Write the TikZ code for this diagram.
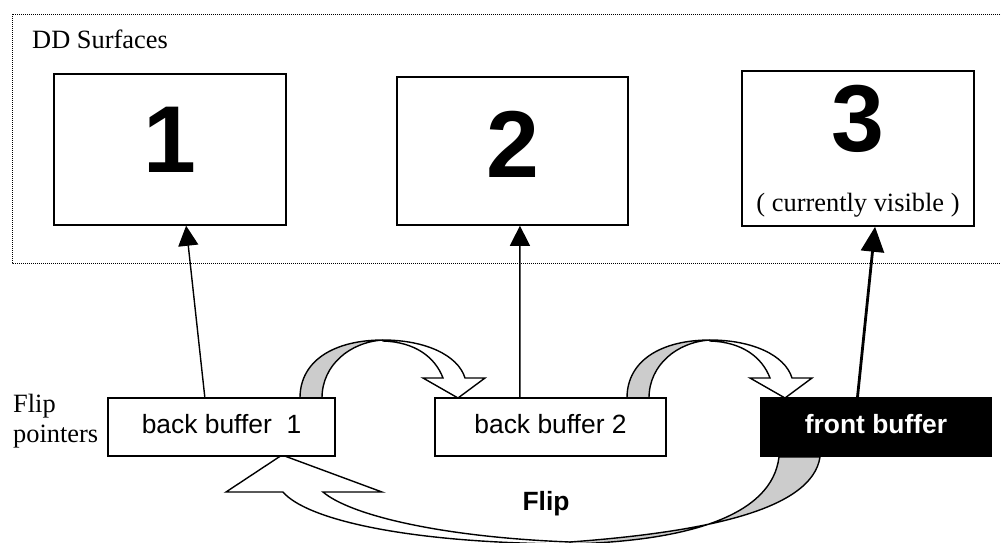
\documentclass[tikz,border=0pt]{standalone}
\usepackage{fontspec}
\setmainfont{Liberation Serif}
\newfontfamily\arialish{Liberation Sans}
\usetikzlibrary{arrows.meta,calc}
\definecolor{bandgray}{RGB}{204,204,204}
\begin{document}
\begin{tikzpicture}[x=1pt,y=-1pt,
  surface/.style={draw, line width=1.5pt, inner sep=0pt},
  ptrbox/.style={draw, fill=white, line width=1.5pt, minimum height=58pt, inner sep=0pt,
    font=\arialish\fontsize{26.4}{30}\selectfont, text height=19pt, text depth=7pt},
  bignum/.style={inner sep=0pt, font=\arialish\bfseries\fontsize{95}{100}\selectfont},
  serif/.style={inner sep=0pt, font=\fontsize{26.4}{30}\selectfont},
  link/.style={line width=1.4pt, -{Triangle[length=20pt,width=20pt]}},
  band/.style={draw, line width=1.4pt, line join=miter},
  surfaceframe/.style={draw=black, line width=1pt, dash pattern=on 1pt off 1pt},
]
\useasboundingbox (0,0) rectangle (1001,542);

% dotted frame around the surfaces (open at the right)
\draw[surfaceframe] (1006,14) -- (12,14) -- (12,263) -- (1006,263);
\node[serif, anchor=base west] (title) at (32,48) {DD Surfaces};

% the three surfaces
\node[surface, minimum width=232pt, minimum height=151pt] (s1) at (170,149.5) {};
\node[surface, minimum width=231pt, minimum height=148pt] (s2) at (512.5,151) {};
\node[surface, minimum width=232pt, minimum height=155pt] (s3) at (858,148.5) {};
\node[bignum] (n1) at (170,140) {1};
\node[bignum] (n2) at (512.5,144) {2};
\node[bignum] (n3) at (858,119) {3};
\node[serif, anchor=base] (vis) at (858,211) {( currently visible )};

% curved block arrows between the flip pointers
\foreach \dx in {0,327}{
  \begin{scope}[shift={(\dx,0)}]
    \filldraw[band, fill=bandgray] (300,398) .. controls (300,360) and (335,340) .. (383,340)
      .. controls (350,342) and (322,365) .. (322,398) -- cycle;
    \filldraw[band, fill=white] (383,340) .. controls (425,340) and (458,355) .. (465,378)
      -- (485,378) -- (458,398) -- (423,378) -- (443,378)
      .. controls (435,357) and (415,342) .. (383,341) -- cycle;
  \end{scope}
}

% the big "Flip" arrow from front buffer back to back buffer 1
\filldraw[band, fill=bandgray] (779,457) .. controls (772,515) and (690,541) .. (570,544)
  -- (570,542) .. controls (705,532) and (812,510) .. (820,457) -- cycle;
\filldraw[band, fill=white] (570,544) .. controls (400,543) and (305,518) .. (283,492)
  -- (226,492) -- (282,455) -- (382,492) -- (323,492)
  .. controls (350,515) and (440,537) .. (570,542) -- cycle;
\node[inner sep=0pt, anchor=base, font=\arialish\bfseries\fontsize{26.4}{30}\selectfont] (flip) at (546,510) {Flip};

% flip pointers
\node[serif, anchor=base west] (fl1) at (13,412) {Flip};
\node[serif, anchor=base west] (fl2) at (13,442) {pointers};
\node[ptrbox, minimum width=227pt] (bb1) at (221.5,427) {back buffer\ \ 1};
\node[ptrbox, minimum width=231pt] (bb2) at (550.5,427) {back buffer 2};
\node[ptrbox, minimum width=230pt, fill=black, text=white,
  font=\arialish\bfseries\fontsize{26.4}{30}\selectfont] (fb) at (876,427) {front buffer};

% pointers to surfaces
\draw[link] ($(bb1.north west)!0.427!(bb1.north east)$) -- ($(s1.south west)!0.569!(s1.south east)$);
\draw[link] ($(bb2.north west)!0.368!(bb2.north east)$) -- ($(s2.south west)!0.532!(s2.south east)$);
\draw[link, line width=2.8pt, -{Triangle[length=25pt,width=23pt]}]
  ($(fb.north west)!0.42!(fb.north east)$) -- ($(s3.south west)!0.573!(s3.south east)$);
\end{tikzpicture}
\end{document}
